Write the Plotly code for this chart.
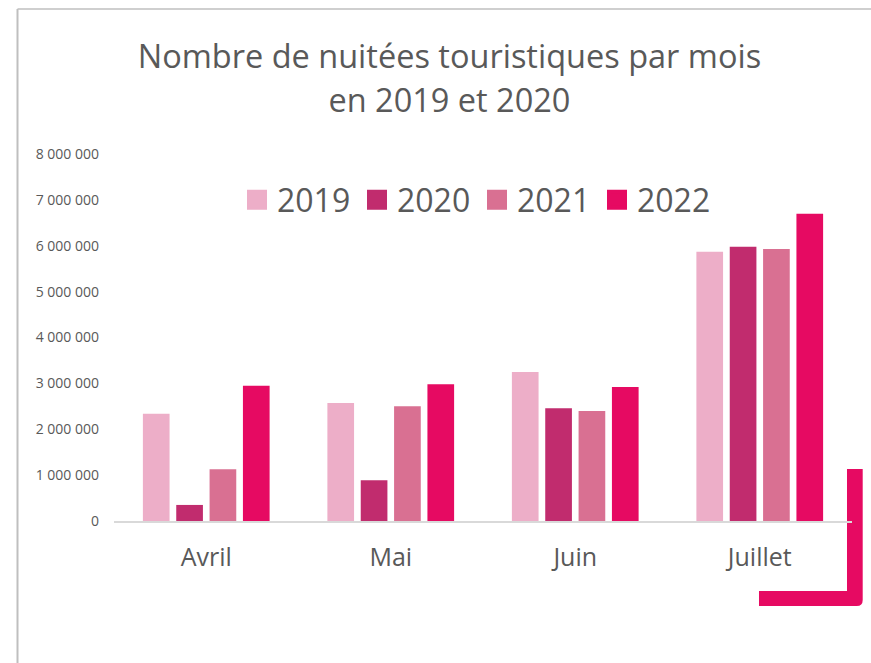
import plotly.graph_objects as go

months = ["Avril", "Mai", "Juin", "Juillet"]
years = ["2019", "2020", "2021", "2022"]
v2019 = [2340000, 2570000, 3250000, 5870000]
v2020 = [350000, 890000, 2460000, 5980000]
v2021 = [1130000, 2500000, 2400000, 5930000]
v2022 = [2950000, 2980000, 2920000, 6700000]
colors = ["#EDAEC8", "#C12C6E", "#D97092", "#E60A62"]
y_ticks = [0, 1000000, 2000000, 3000000, 4000000, 5000000, 6000000, 7000000, 8000000]

W, H = 871, 663
L, R, T, B = 114, 19, 154, 142
FONT = "Open Sans"
GREY = "#595959"


def px_x(p):
    return (p - L) / (W - L - R)


def px_y(p):
    return (H - B - p) / (H - T - B)


fig = go.Figure()
for name, vals, col in zip(years, [v2019, v2020, v2021, v2022], colors):
    fig.add_trace(go.Bar(x=months, y=vals, name=name, marker_color=col,
                         marker_line_width=0, showlegend=False))
for name, col in zip(years, colors):
    fig.add_trace(go.Scatter(x=[None], y=[None], mode="markers", name=name,
                             marker=dict(symbol="square", size=16, color=col,
                                         line=dict(color=col, width=4)),
                             showlegend=True))

# decorative border and pink corner
shapes = [
    dict(type="line", xref="paper", yref="paper", x0=px_x(17.5), x1=px_x(875),
         y0=px_y(9), y1=px_y(9), line=dict(color="#BFBFBF", width=1.5), layer="below"),
    dict(type="line", xref="paper", yref="paper", x0=px_x(17.5), x1=px_x(17.5),
         y0=px_y(9), y1=px_y(670), line=dict(color="#BFBFBF", width=2), layer="below"),
]
path = "M {:.5f},{:.5f} L {:.5f},{:.5f} L {:.5f},{:.5f} Q {:.5f},{:.5f} {:.5f},{:.5f} L {:.5f},{:.5f} L {:.5f},{:.5f} L {:.5f},{:.5f} Z".format(
    px_x(847), px_y(469), px_x(862.7), px_y(469), px_x(862.7), px_y(600),
    px_x(862.7), px_y(606), px_x(856.7), px_y(606),
    px_x(759), px_y(606), px_x(759), px_y(591), px_x(847), px_y(591))
shapes.append(dict(type="path", xref="paper", yref="paper", path=path,
                   fillcolor="#E60A62", line=dict(width=0), layer="below"))

fig.update_layout(
    width=W, height=H,
    margin=dict(l=L, r=R, t=T, b=B, pad=0),
    paper_bgcolor="white", plot_bgcolor="white",
    separators=", ",
    barmode="group", bargap=0.277, bargroupgap=0.2,
    font=dict(family=FONT, color=GREY),
    title=dict(text="<span style='font-size:32.5px'>Nombre de nuitées touristiques par mois</span><br>"
                    "<span style='font-size:32.5px'>en 2019 et 2020</span>",
               x=0.516, xanchor="center", xref="container",
               y=1 - 68 / H, yanchor="middle", yref="container",
               font=dict(family=FONT, size=34, color=GREY)),
    legend=dict(orientation="h", x=px_x(237), xanchor="left", y=px_y(200), yanchor="middle",
                font=dict(family=FONT, size=32, color=GREY), bgcolor="rgba(0,0,0,0)",
                itemsizing="trace", itemclick=False, entrywidth=75, entrywidthmode="pixels"),
    shapes=shapes,
    xaxis=dict(showline=True, linecolor="#D9D9D9", linewidth=2, ticks="",
               tickfont=dict(family=FONT, size=25, color=GREY), ticklabelstandoff=13,
               showgrid=False, zeroline=False),
    yaxis=dict(range=[0, 8000000], tickvals=y_ticks, tickformat=",d", showgrid=False,
               zeroline=False, showline=False, ticks="",
               tickfont=dict(family=FONT, size=14, color=GREY), ticklabelstandoff=14),
)
fig.write_html("out.html", config={"displayModeBar": False},
               post_script="document.body.style.margin='0';document.body.style.overflow='hidden';")
